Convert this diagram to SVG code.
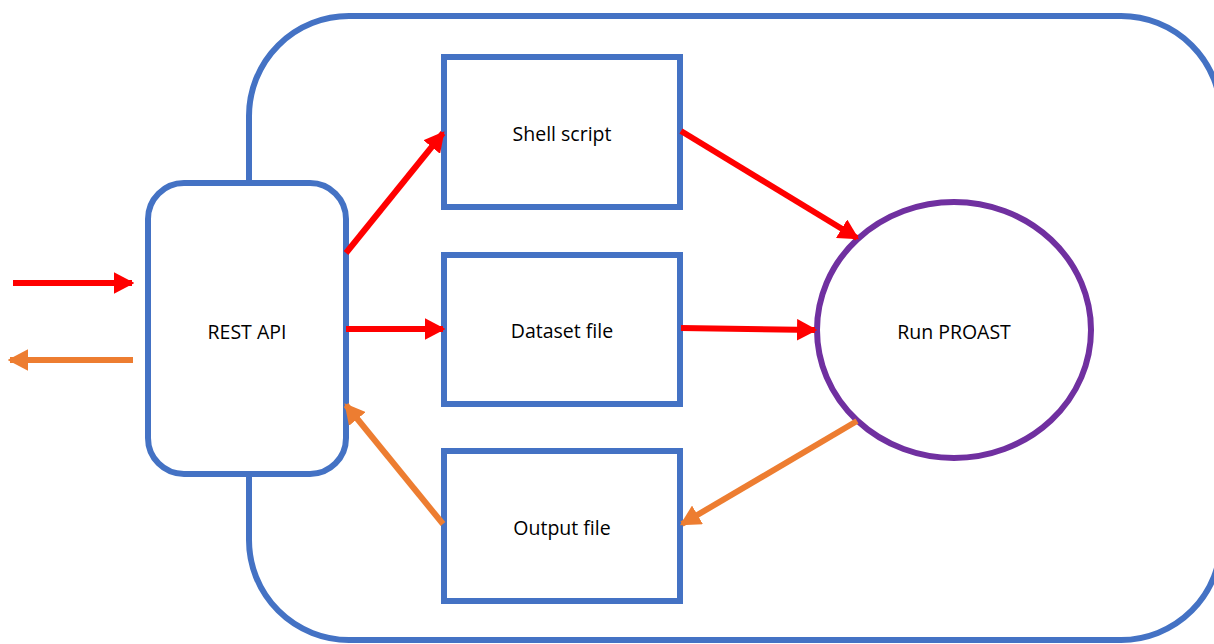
<svg xmlns="http://www.w3.org/2000/svg" width="1214" height="644" viewBox="0 0 1214 644">
<style>
.box{fill:#fff;stroke:#4472C4;stroke-width:6}
.lbl{font-family:"Open Sans","Liberation Sans",sans-serif;font-size:19.5px;fill:#000;text-anchor:middle;dominant-baseline:central}
.red{stroke:#FF0000;stroke-width:6;fill:none;marker-end:url(#hr)}
.org{stroke:#ED7D31;stroke-width:6;fill:none;marker-end:url(#ho)}
</style>
<defs>
<marker id="hr" markerWidth="3.4" markerHeight="3.6" refX="3" refY="1.8" orient="auto" markerUnits="strokeWidth"><path d="M0,0 L3.4,1.8 L0,3.6 Z" fill="#FF0000"/></marker>
<marker id="ho" markerWidth="3.4" markerHeight="3.6" refX="3" refY="1.8" orient="auto" markerUnits="strokeWidth"><path d="M0,0 L3.4,1.8 L0,3.6 Z" fill="#ED7D31"/></marker>
</defs>
<rect width="1214" height="644" fill="#fff"/>
<g id="container"><rect x="249" y="16" width="972" height="624" rx="100" ry="100" fill="none" stroke="#4472C4" stroke-width="6"/></g>
<g id="rest-api"><rect class="box" x="148" y="183" width="198" height="291" rx="36" ry="36"/><text class="lbl" x="247" y="331">REST API</text></g>
<g id="shell-script"><rect class="box" x="444" y="57" width="236" height="150"/><text class="lbl" x="562" y="133">Shell script</text></g>
<g id="dataset-file"><rect class="box" x="444" y="255" width="236" height="149"/><text class="lbl" x="562" y="330">Dataset file</text></g>
<g id="output-file"><rect class="box" x="444" y="451" width="236" height="150"/><text class="lbl" x="562" y="527">Output file</text></g>
<g id="run-proast"><ellipse cx="954" cy="330" rx="137" ry="128" fill="#fff" stroke="#7030A0" stroke-width="6"/><text class="lbl" x="954" y="331">Run PROAST</text></g>
<g id="connectors">
<line class="red" x1="13" y1="283" x2="132" y2="283"/>
<line class="org" x1="133" y1="360" x2="10" y2="360"/>
<line class="red" x1="346" y1="253" x2="443" y2="133"/>
<line class="red" x1="346" y1="329" x2="443" y2="329"/>
<line class="org" x1="443" y1="524" x2="346" y2="405"/>
<line class="red" x1="681" y1="131" x2="857" y2="238"/>
<line class="red" x1="681" y1="328" x2="815" y2="330"/>
<line class="org" x1="857" y1="421" x2="682" y2="524"/>
</g>
</svg>
